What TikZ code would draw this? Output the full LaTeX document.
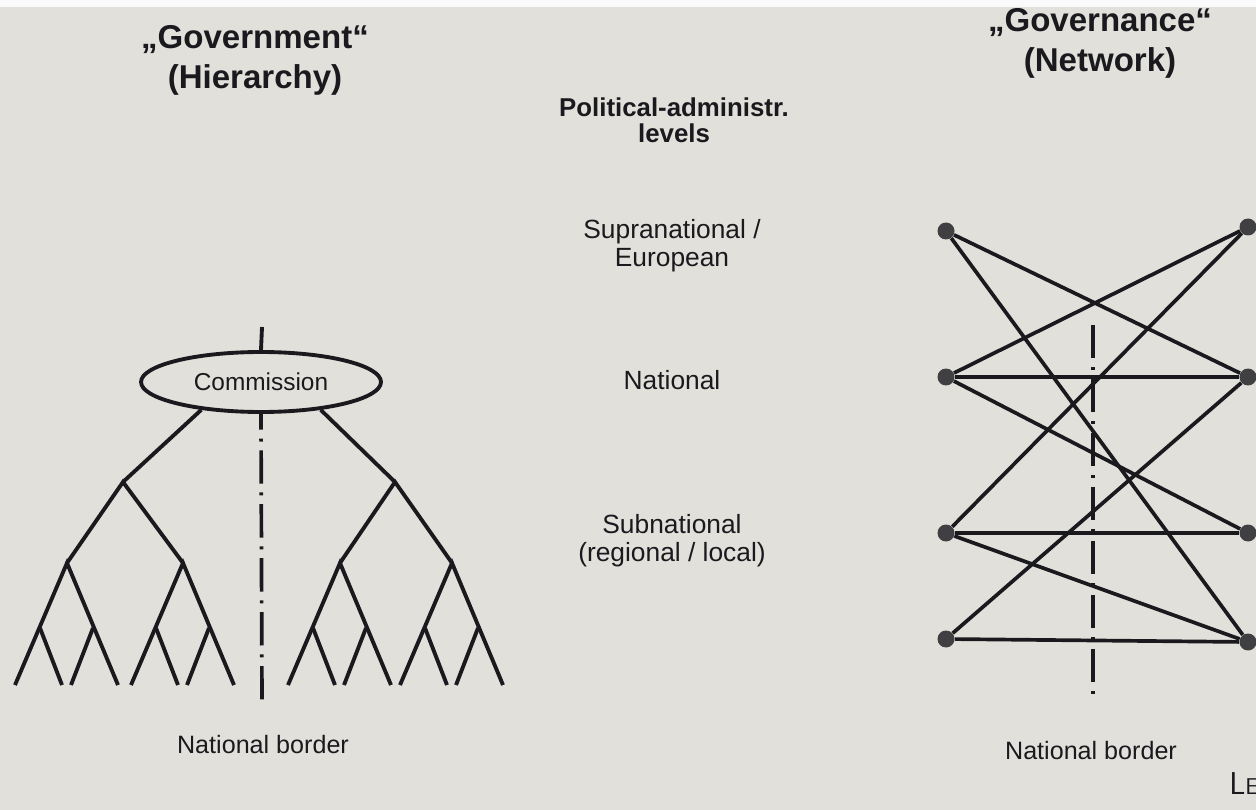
\documentclass[tikz,border=0pt]{standalone}
\usepackage{fontspec}
\setmainfont{Liberation Sans}
\usetikzlibrary{shapes.geometric,positioning}
\definecolor{paper}{RGB}{226,224,219}
\definecolor{ink}{RGB}{26,26,30}
\definecolor{dotgrey}{RGB}{64,64,66}

\begin{document}
\begin{tikzpicture}[x=0.02cm, y=-0.02cm,
    branch/.style={draw=ink, line width=2.2pt},
    link/.style={draw=ink, line width=2.1pt},
    borderline/.style={draw=ink, line width=2.1pt, dash pattern=on 19pt off 5pt on 1.7pt off 5pt},
    actor/.style={circle, fill=dotgrey, minimum size=0.34cm, inner sep=0pt},
    headline/.style={align=center, text=ink, font=\bfseries\fontsize{18.8}{22.8}\selectfont},
    levelname/.style={align=center, text=ink, font=\fontsize{15}{16}\selectfont},
    caption/.style={text=ink, font=\fontsize{14.3}{16}\selectfont}]
    \useasboundingbox (0,0) rectangle (1256,810);
    % paper
    \fill[paper] (0,0) rectangle (1256,810);
    \fill[white!85!paper] (0,0) rectangle (1256,7);

    % titles
    \node[headline] (gov) at (255,60) {„Government“\\(Hierarchy)};
    \node[headline] (gnc) at (1100,43) {„Governance“\\(Network)};
    \node[align=center, text=ink, font=\bfseries\fontsize{14.7}{15}\selectfont] (lvl) at (674,120) {Political-administr.\\levels};

    % levels in the middle
    \node[levelname] (supra) at (672,246) {Supranational /\\European};
    \node[levelname] (natl) at (672,380) {National};
    \node[levelname] (subnat) at (672,541) {Subnational\\(regional / local)};

    % Hierarchy: Commission and tree
    \coordinate (stub) at (262,327);
    \node[ellipse, draw=ink, line width=2.2pt, minimum width=4.8cm, minimum height=1.2cm, inner sep=0pt,
          text=ink, font=\fontsize{13.9}{15}\selectfont] (comm) at (261,382) {Commission};
    \draw[branch] (stub) -- (comm.north);
    \coordinate (a) at (123,482);
    \coordinate (c) at (395,482);
    \draw[branch] (comm.205) -- (a);
    \draw[branch] (comm.335) -- (c);
    \foreach \n/\x in {b1/67, b2/183, d1/340, d2/452} {
        \coordinate (\n) at (\x,563);
        \draw[branch] (\x-52,685) -- (\n) -- (\x+51,685);
        \draw[branch] (\x-27,628) -- (\x-5,685);
        \draw[branch] (\x+26,628) -- (\x+4,685);
    }
    \draw[branch] (b1) -- (a) -- (b2);
    \draw[branch] (d1) -- (c) -- (d2);
    \coordinate (lbend) at (262,708);
    \draw[borderline, dash phase=10pt] (comm.south) -- (lbend);
    \node[caption] (lborder) at (263,745) {National border};

    % Network
    \node[actor] (l1) at (946,231) {};
    \node[actor] (l2) at (946,377) {};
    \node[actor] (l3) at (946,533) {};
    \node[actor] (l4) at (946,639) {};
    \node[actor] (r1) at (1248,227) {};
    \node[actor] (r2) at (1248,377) {};
    \node[actor] (r3) at (1248,533) {};
    \node[actor] (r4) at (1248,642) {};
    \draw[link] (l1) -- (r2);
    \draw[link] (l1) -- (r4);
    \draw[link] (l2) -- (r1);
    \draw[link] (l2) -- (r2);
    \draw[link] (l2) -- (r3);
    \draw[link] (l3) -- (r1);
    \draw[link] (l3) -- (r3);
    \draw[link] (l3) -- (r4);
    \draw[link] (l4) -- (r2);
    \draw[link] (l4) -- (r4);
    \coordinate (rbtop) at (1093,325);
    \coordinate (rbend) at (1093,695);
    \draw[borderline] (rbtop) -- (rbend);
    \node[caption] (rborder) at (1091,751) {National border};

    % cut-off text at the corner
    \node[anchor=base west, text=ink, inner sep=0pt] (le) at (1229,794)
        {\sffamily\fontsize{18}{18}\selectfont L\fontsize{13}{13}\selectfont E};
\end{tikzpicture}
\end{document}
